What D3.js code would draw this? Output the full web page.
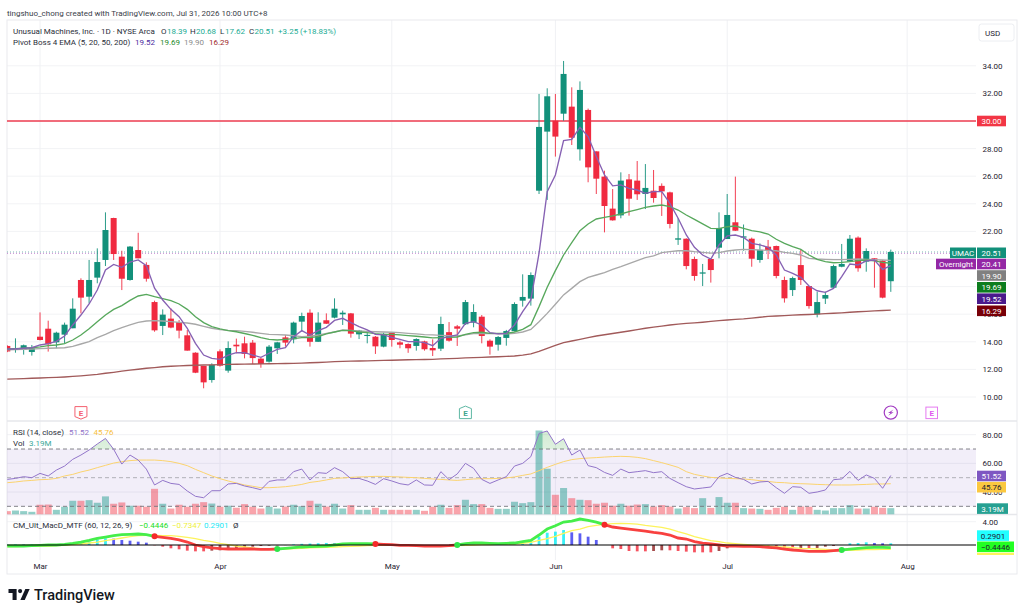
<!DOCTYPE html>
<html>
<head>
<meta charset="utf-8">
<script src="https://cdn.jsdelivr.net/npm/d3@7"></script>
<style>
  html, body { margin: 0; padding: 0; background: #fff; overflow: hidden; }
  text { font-family: Roboto, "Liberation Sans", sans-serif; }
  .domain { display: none; }
</style>
</head>
<body>
<div id="chart-container"></div>
<script>
/**************************************************
 * Data (daily bars, Feb 24 - Jul 30)
 **************************************************/
const opens = [13.7,13.41,13.41,13.26,14.37,14.95,13.96,14.52,14.98,18.48,17.27,18.65,19.93,22.97,20.17,18.48,20.65,19.57,16.88,15.15,15.68,15.43,14.47,13.21,12.25,11.23,13.31,11.91,13.79,13.89,13.94,12.78,12.56,13.53,14.32,14.18,15.46,16.11,14.0,15.56,15.75,
  15.99,16.06,14.54,14.42,14.37,13.65,14.64,13.96,13.84,13.7,14.03,13.55,13.5,14.7,15.12,15.27,15.39,15.82,14.08,13.79,14.28,14.78,16.98,17.13,24.95,29.23,30.02,30.53,31.04,27.95,30.8,27.8,25.97,23.65,23.16,25.77,25.68,24.71,24.95,25.3,24.83,
  21.4,21.47,20.0,18.94,20.0,20.82,21.45,22.66,21.55,21.47,19.93,20.89,20.94,18.48,17.75,19.56,18.04,15.99,17.13,17.92,19.44,19.81,21.55,19.81,20.05,19.88,18.39];
const closes = [13.3,13.53,13.75,13.57,14.13,13.82,14.66,15.24,16.4,17.2,18.48,19.78,22.1,20.36,18.57,20.9,20.05,18.57,14.83,15.97,15.03,14.81,13.36,11.76,11.06,12.34,12.27,13.55,13.67,13.12,12.82,12.39,13.65,13.96,13.94,15.39,15.87,14.0,15.39,15.31,16.4,
  16.11,14.59,14.81,14.5,13.67,14.57,14.13,13.79,13.53,14.2,13.46,13.38,15.29,14.08,14.95,16.88,16.16,14.42,13.65,14.35,14.78,16.74,17.25,18.84,29.57,31.79,28.87,33.41,28.79,32.25,26.64,25.82,23.84,22.8,25.68,24.37,24.69,25.15,24.42,24.9,22.54,
  21.5,19.49,18.77,19.03,19.2,22.25,23.19,22.05,21.64,20.02,20.65,20.65,18.77,17.15,18.62,18.48,16.59,16.88,17.39,19.49,19.64,21.47,19.33,20.58,19.86,17.2,20.51];
const highs = [13.75,14.25,13.8,13.77,16.13,15.53,14.73,15.39,17.15,18.6,19.93,20.77,23.38,22.99,20.6,20.94,21.9,19.76,16.98,16.35,16.42,15.58,14.86,13.24,12.25,12.44,13.45,14.03,14.23,14.37,14.13,12.85,13.77,14.0,14.49,15.46,16.11,16.35,16.14,16.06,17.15,
  16.26,16.09,14.86,14.7,14.42,14.66,14.7,14.08,13.89,14.25,14.08,14.18,15.82,15.43,15.22,17.03,16.72,15.94,14.18,14.42,14.86,16.86,18.89,19.03,31.96,32.37,31.96,34.35,32.44,32.87,30.9,27.8,26.4,25.07,26.28,26.16,27.1,26.88,26.45,25.48,24.88,
  22.95,21.5,20.17,19.64,20.0,23.38,24.71,25.97,22.5,21.55,21.13,21.38,20.97,18.72,18.72,20.7,18.04,17.63,17.63,19.59,21.09,21.74,21.64,20.77,20.05,19.93,20.68];
const lows = [13.25,13.21,13.07,13.0,14.1,13.29,13.53,13.89,14.98,16.06,16.79,18.24,19.49,19.93,17.75,18.43,20.05,18.36,14.73,14.49,14.98,14.25,13.36,11.73,10.63,11.04,12.2,11.76,13.17,12.8,12.39,12.12,12.49,13.12,13.65,13.89,14.73,13.65,14.0,15.29,15.7,
  15.22,14.3,14.2,13.89,13.12,13.6,13.65,13.53,13.2,13.36,13.36,12.97,13.33,14.01,13.7,15.22,15.05,13.89,13.07,13.36,13.72,14.74,16.55,16.62,24.71,24.28,27.42,30.02,28.26,27.13,25.56,24.71,21.93,22.78,22.95,23.14,24.28,23.62,24.08,23.12,22.22,
  21.02,19.25,18.43,18.04,18.29,20.05,21.45,22.03,20.6,19.44,19.73,20.0,18.6,16.84,17.32,18.12,16.4,15.77,16.74,17.87,19.4,19.81,19.08,19.08,17.92,17.15,17.62];

const ema5 = [13.48,13.48,13.53,13.57,13.77,13.87,14.03,14.42,15.22,15.94,16.74,17.75,19.2,19.61,19.4,19.78,19.93,19.52,17.88,17.03,16.35,15.82,14.98,13.89,13.04,12.8,12.73,13.04,13.21,13.21,13.04,12.87,13.17,13.45,13.57,14.37,14.81,14.49,14.81,15.05,15.55,
  15.7,15.39,15.1,14.86,14.54,14.5,14.32,14.18,14.01,14.01,13.94,13.72,14.25,14.37,14.5,15.34,15.46,15.22,14.66,14.57,14.61,15.22,16.18,17.03,20.41,24.88,26.09,28.58,28.67,29.54,28.87,27.42,26.09,25.3,25.37,25.12,25.0,24.76,24.88,24.88,24.03,
  22.95,21.74,20.85,20.29,20.0,21.02,21.67,21.74,21.57,21.13,21.02,20.85,20.29,19.2,18.96,18.67,18.04,17.7,17.58,17.87,18.72,19.64,19.57,19.86,19.93,19.25,19.52];
const ema20 = [13.48,13.5,13.53,13.57,13.63,13.72,13.77,13.87,14.13,14.49,14.95,15.46,15.94,16.35,16.62,17.0,17.32,17.44,17.27,17.13,16.98,16.74,16.35,15.82,15.39,15.1,14.93,14.81,14.73,14.6,14.47,14.3,14.18,14.13,14.18,14.23,14.3,14.3,14.37,14.57,14.71,
  14.83,14.81,14.71,14.66,14.59,14.54,14.54,14.5,14.45,14.4,14.35,14.28,14.3,14.33,14.35,14.54,14.66,14.69,14.61,14.61,14.61,14.71,14.9,15.24,16.55,17.95,19.16,20.29,21.18,22.05,22.54,22.9,23.02,23.12,23.26,23.43,23.58,23.74,23.84,23.91,23.79,
  23.55,23.19,22.87,22.54,22.22,22.2,22.34,22.39,22.22,22.05,21.96,21.81,21.43,21.13,20.89,20.7,20.29,19.97,19.81,19.73,19.76,19.81,19.88,19.93,19.86,19.76,19.69];
const ema50 = [13.41,13.43,13.45,13.48,13.5,13.53,13.55,13.57,13.67,13.84,14.01,14.3,14.54,14.81,15.03,15.22,15.41,15.51,15.53,15.51,15.46,15.41,15.36,15.27,15.12,14.98,14.88,14.83,14.81,14.76,14.69,14.61,14.54,14.52,14.49,14.44,14.37,14.4,14.49,14.61,14.71,
  14.86,14.83,14.78,14.76,14.73,14.71,14.69,14.66,14.61,14.57,14.52,14.5,14.47,14.45,14.42,14.5,14.59,14.61,14.59,14.57,14.57,14.61,14.71,14.9,15.46,16.06,16.72,17.4,17.87,18.36,18.67,18.84,19.01,19.25,19.44,19.66,19.88,20.1,20.22,20.46,20.53,
  20.6,20.6,20.53,20.48,20.43,20.46,20.58,20.65,20.7,20.68,20.65,20.63,20.6,20.48,20.41,20.29,20.05,20.0,19.97,19.95,19.95,19.97,20.0,19.97,19.95,19.93,19.9];
const ema200 = [11.3,11.31,11.33,11.36,11.38,11.4,11.42,11.45,11.49,11.53,11.58,11.64,11.72,11.79,11.87,11.95,12.01,12.08,12.13,12.19,12.23,12.26,12.28,12.3,12.32,12.33,12.35,12.36,12.37,12.38,12.39,12.4,12.41,12.42,12.43,12.44,12.46,12.48,12.5,12.53,12.56,
  12.58,12.6,12.61,12.62,12.64,12.65,12.66,12.68,12.7,12.71,12.72,12.73,12.76,12.78,12.8,12.83,12.85,12.87,12.9,12.92,12.94,12.97,13.03,13.12,13.3,13.53,13.74,13.94,14.06,14.18,14.3,14.42,14.51,14.6,14.69,14.78,14.88,14.98,15.06,15.14,15.22,
  15.28,15.33,15.37,15.42,15.48,15.54,15.58,15.63,15.66,15.72,15.78,15.84,15.87,15.9,15.93,15.96,15.98,16.01,16.04,16.07,16.1,16.14,16.18,16.21,16.24,16.27,16.29];

const volumes = [1.7,2.0,1.7,1.35,4.9,5.0,2.35,3.9,6.9,6.9,7.2,5.9,9.1,5.4,6.05,4.4,4.4,3.9,12.9,5.4,3.0,4.9,3.9,5.4,6.2,5.5,3.9,4.4,3.4,5.2,3.9,3.0,3.9,3.0,4.0,4.9,4.2,6.9,5.4,4.0,5.4,
  3.0,4.7,2.35,2.35,3.35,2.35,2.35,2.35,2.35,2.35,1.85,3.9,4.9,3.35,4.7,7.4,5.2,5.2,3.35,2.85,2.85,6.4,5.7,6.2,42.2,23.0,9.9,13.3,8.2,7.4,7.2,5.4,5.9,4.4,5.4,4.4,5.0,5.2,4.0,4.7,4.0,
  3.0,3.7,3.2,8.2,3.35,8.75,5.9,5.9,3.2,3.0,2.85,2.35,3.35,3.9,2.35,4.0,3.9,2.35,2.0,3.2,3.2,4.7,3.0,3.0,3.9,3.35,3.19];

const rsi = [48.8,49.5,50.7,50.0,53.0,51.2,55.3,58.1,62.8,65.8,69.3,73.5,77.4,69.8,59.5,65.8,62.3,56.0,44.9,48.1,46.0,45.3,40.7,37.0,36.0,40.9,40.9,45.6,46.0,44.2,43.0,41.6,47.4,48.4,48.4,54.2,56.0,48.4,53.5,53.0,57.0,
  54.2,49.3,49.5,47.7,45.3,49.3,47.7,45.8,44.9,48.4,44.9,44.7,54.2,48.6,52.6,60.0,56.5,48.8,46.0,48.4,50.7,58.1,60.0,64.7,80.9,82.6,73.3,77.2,65.8,69.3,58.4,57.0,53.7,51.6,56.0,53.5,54.2,54.9,53.5,54.2,49.5,
  46.5,43.7,42.1,42.8,43.5,50.7,53.0,50.2,48.8,45.6,47.0,47.4,43.0,39.1,43.7,43.3,39.1,40.0,41.4,48.6,49.1,54.4,48.1,51.9,49.5,42.6,51.52];
const rsiMa = [46.5,47.0,47.7,48.1,48.6,48.8,49.5,51.2,52.3,54.0,55.3,57.0,58.6,60.2,61.2,61.9,62.3,62.3,62.3,61.9,61.2,60.0,58.4,55.8,53.5,51.2,49.3,47.7,46.3,44.9,44.0,43.0,43.0,43.3,43.7,44.4,45.3,46.7,47.4,48.4,49.5,
  49.8,50.2,50.5,50.7,50.9,50.9,50.7,50.5,50.2,50.0,49.5,49.1,48.8,48.4,48.1,48.6,49.1,49.3,49.3,49.5,49.8,50.5,51.6,52.6,54.9,57.2,59.3,61.2,62.6,63.3,63.7,64.0,64.4,64.7,64.9,64.7,64.2,63.3,61.9,60.5,58.9,
  57.2,54.2,52.3,51.2,50.2,49.8,49.5,49.3,49.1,48.6,47.9,47.4,46.7,46.5,46.0,45.8,45.6,45.3,45.1,44.9,44.9,44.9,45.1,45.3,45.6,45.6,45.76];

const macd = [-.17,-.17,-.17,-.11,-.06,0,0,.11,.29,.51,.8,1.14,1.37,1.6,1.77,1.83,1.89,1.77,1.49,1.31,1.14,.86,.51,0,-.29,-.51,-.63,-.69,-.69,-.69,-.69,-.74,-.74,-.69,-.57,-.46,-.34,-.29,-.23,-.17,0,
  .17,.23,.23,.23,.17,.11,.06,-.06,-.06,-.11,-.17,-.17,-.17,-.11,0,.23,.34,.34,.29,.23,.29,.34,.57,.8,1.71,2.74,3.31,3.94,4.11,4.46,4.23,3.94,3.49,3.09,2.91,2.74,2.57,2.4,2.17,2.0,1.71,
  1.2,1.03,.57,.34,.17,0,-.17,-.17,-.23,-.23,-.29,-.4,-.51,-.69,-.86,-.97,-1.09,-1.09,-1.09,-.97,-.86,-.69,-.57,-.46,-.4,-.4,-.4446];
const signal = [-.29,-.29,-.23,-.23,-.17,-.17,-.11,-.06,.06,.17,.34,.51,.74,.97,1.2,1.43,1.6,1.66,1.66,1.6,1.6,1.49,1.31,1.09,.8,.57,.29,.06,-.17,-.34,-.51,-.63,-.69,-.69,-.69,-.63,-.57,-.51,-.46,-.4,-.34,
  -.29,-.23,-.17,-.11,-.06,-.06,-.06,-.06,-.06,-.06,-.11,-.11,-.11,-.11,-.11,-.06,0,.06,.06,.11,.11,.17,.29,.46,.8,1.09,1.49,2.0,2.46,2.74,3.14,3.37,3.54,3.66,3.71,3.66,3.6,3.37,3.2,3.03,2.74,
  2.29,1.89,1.43,1.09,.74,.57,.34,.23,.11,0,-.06,-.17,-.29,-.34,-.46,-.57,-.63,-.69,-.74,-.86,-.91,-.91,-.86,-.8,-.8,-.74,-.7347];
const hist = [.05,.12,.1,.14,.1,.12,.08,.1,.15,.4,.6,.97,1.14,1.09,.86,.74,.57,.4,-.05,-.29,-.57,-.74,-.97,-1.09,-1.09,-.97,-.91,-.69,-.57,-.4,-.29,-.17,-.11,-.06,-.02,.1,.2,.25,.3,.35,.3,
  .34,.34,.29,.2,.1,.06,-.03,-.05,-.05,-.08,-.08,-.08,-.05,-.03,.03,.08,.11,.1,.06,.05,.05,.1,.2,.57,1.43,2.11,2.29,2.57,2.17,2.0,1.43,.86,0,-.57,-.69,-1.03,-1.09,-1.09,-1.03,-.91,-.91,
  -1.03,-1.14,-1.26,-1.26,-1.26,-1.03,-.57,-.29,-.11,-.06,-.11,-.17,-.29,-.57,-.57,-.51,-.57,-.51,-.29,-.17,0,.29,.34,.46,.34,.29,.2901];
// bars where macd crosses signal, the first one turns it red, then it alternates
const macdCrosses = [18, 33, 45, 55, 73, 102];

const monthTicks = [4, 26, 47, 67, 88, 110];
const monthLabels = ["Mar", "Apr", "May", "Jun", "Jul", "Aug"];
const priceGrid = [10, 12, 14, 16, 18, 20, 22, 24, 26, 28, 30, 32, 34];
const priceTicks = [10, 12, 14, 16, 22, 24, 26, 28, 32, 34]; // 18 and 20 sit fully under the tags
const rsiTicks = [40, 60, 80];
const macdTicks = [4];
const alertLevel = 30;
const earningsBeat = [9];
const earningsMiss = [56];
const earningsNext = [113];
const splitBars = [108];

/**************************************************
 * Layout
 **************************************************/
const width = 1027, height = 613;
const frameLeft = 7, frameRight = 1017, plotRight = 976, frameTop = 20, frameBottom = 574;
const mainBottom = 421, rsiBottom = 514.5, macdBottom = 555;

const green = "#12907a", red = "#f02a40";
const font = 8;

const svg = d3.select("#chart-container")
  .append("svg")
  .attr("width", width)
  .attr("height", height)
  .style("display", "block");

const defs = svg.append("defs");
function addClip(id, x0, y0, w, h) {
  defs.append("clipPath").attr("id", id).append("rect")
    .attr("x", x0).attr("y", y0).attr("width", w).attr("height", h);
}
addClip("main-clip", frameLeft, frameTop, plotRight - frameLeft, mainBottom - frameTop);
addClip("rsi-clip", frameLeft, mainBottom, plotRight - frameLeft, rsiBottom - mainBottom);
addClip("macd-clip", frameLeft, rsiBottom, plotRight - frameLeft, macdBottom - rsiBottom);
addClip("macd-axis-clip", plotRight, rsiBottom, frameRight - plotRight, macdBottom - rsiBottom);

const ob = defs.append("linearGradient").attr("id", "ob-fill")
  .attr("x1", 0).attr("x2", 0).attr("y1", 0).attr("y2", 1);
ob.append("stop").attr("offset", "0%").attr("stop-color", "#4caf50").attr("stop-opacity", 0.25);
ob.append("stop").attr("offset", "100%").attr("stop-color", "#4caf50").attr("stop-opacity", 0);

/**************************************************
 * Scales
 **************************************************/
const x = d3.scaleLinear().domain([0, 108]).range([7.3, 890.8]);
const priceY = d3.scaleLinear().domain([10, 34]).range([397, 65.8]);
const rsiY = d3.scaleLinear().domain([40, 80]).range([492, 434.7]);
const volY = d3.scaleLinear().domain([0, 42.2]).range([rsiBottom, 430.5]);
const macdY = d3.scaleLinear().domain([0, 4]).range([545, 521.7]);

/**************************************************
 * Frame and grid
 **************************************************/
svg.append("g").selectAll("line")
  .data(priceGrid)
  .enter().append("line")
  .attr("x1", frameLeft).attr("x2", plotRight)
  .attr("y1", d => priceY(d)).attr("y2", d => priceY(d))
  .attr("stroke", "#f2f3f5");

svg.append("g").selectAll("line")
  .data(rsiTicks)
  .enter().append("line")
  .attr("x1", frameLeft).attr("x2", plotRight)
  .attr("y1", d => rsiY(d)).attr("y2", d => rsiY(d))
  .attr("stroke", "#f0f1f4");

svg.append("line")
  .attr("x1", frameLeft).attr("x2", plotRight)
  .attr("y1", macdY(4)).attr("y2", macdY(4))
  .attr("stroke", "#f2f3f5");

svg.append("g").selectAll("line")
  .data(monthTicks)
  .enter().append("line")
  .attr("x1", d => x(d)).attr("x2", d => x(d))
  .attr("y1", frameTop).attr("y2", macdBottom + 5)
  .attr("stroke", "#f0f1f4");

svg.append("rect")
  .attr("x", frameLeft).attr("y", frameTop)
  .attr("width", frameRight - frameLeft).attr("height", frameBottom - frameTop)
  .attr("fill", "none").attr("stroke", "#e9eaee");

[mainBottom, rsiBottom].forEach(y => {
  svg.append("line")
    .attr("x1", frameLeft).attr("x2", frameRight)
    .attr("y1", y).attr("y2", y)
    .attr("stroke", "#e6e7eb").attr("stroke-width", 1.3);
});

/**************************************************
 * Price pane
 **************************************************/
const main = svg.append("g").attr("clip-path", "url(#main-clip)");

// last price and overnight dotted lines
[[closes[108], "#12907a"], [20.41, "#9c27b0"]].forEach(([p, c]) => {
  main.append("line")
    .attr("x1", frameLeft).attr("x2", plotRight)
    .attr("y1", priceY(p)).attr("y2", priceY(p))
    .attr("stroke", c).attr("stroke-opacity", 0.55)
    .attr("stroke-dasharray", "1 2");
});

main.append("line")
  .attr("x1", frameLeft).attr("x2", plotRight)
  .attr("y1", priceY(alertLevel)).attr("y2", priceY(alertLevel))
  .attr("stroke", "#ee3d50").attr("stroke-width", 1.6);

const bars = main.append("g").selectAll("g")
  .data(opens.map((o, i) => i))
  .enter().append("g");

bars.append("line")
  .attr("x1", i => x(i)).attr("x2", i => x(i))
  .attr("y1", i => priceY(highs[i])).attr("y2", i => priceY(lows[i]))
  .attr("stroke", i => closes[i] >= opens[i] ? green : red)
  .attr("stroke-width", 0.9);

bars.append("rect")
  .attr("x", i => x(i) - 3).attr("width", 6)
  .attr("y", i => priceY(Math.max(opens[i], closes[i])))
  .attr("height", i => Math.max(1, Math.abs(priceY(opens[i]) - priceY(closes[i]))))
  .attr("fill", i => closes[i] >= opens[i] ? green : red);

const priceLine = d3.line().x((d, i) => x(i)).y(d => priceY(d));

[[ema200, "#a15a5a"], [ema50, "#a8a8a8"], [ema20, "#57a85c"], [ema5, "#8661b3"]].forEach(([s, c]) => {
  main.append("path")
    .attr("d", priceLine(s))
    .attr("fill", "none")
    .attr("stroke", c)
    .attr("stroke-width", 1.35);
});

// event markers under the candles
const markerY = 412.6;
main.selectAll("path.e-miss").data(earningsBeat).enter().append("path")
  .attr("class", "e-miss")
  .attr("d", d => `M${x(d) - 6},${markerY - 6}h12v10l-6,2.5l-6,-2.5z`)
  .attr("fill", "#fff").attr("stroke", "#f4606f").attr("stroke-width", 1);
main.selectAll("path.e-beat").data(earningsMiss).enter().append("path")
  .attr("class", "e-beat")
  .attr("d", d => `M${x(d) - 6},${markerY + 6}h12v-10l-6,-2.5l-6,2.5z`)
  .attr("fill", "#fff").attr("stroke", "#5fb8a4").attr("stroke-width", 1);
main.selectAll("rect.e-next").data(earningsNext).enter().append("rect")
  .attr("class", "e-next")
  .attr("x", d => x(d) - 5.8).attr("y", markerY - 5.5)
  .attr("width", 11.6).attr("height", 11.5)
  .attr("fill", "#fff").attr("stroke", "#e57bf0").attr("stroke-width", 1);
main.selectAll("text.e-label")
  .data(earningsBeat.map(d => [d, "#f4606f"]).concat(earningsMiss.map(d => [d, "#3fa58e"]), earningsNext.map(d => [d, "#e057ee"])))
  .enter().append("text")
  .attr("class", "e-label")
  .attr("x", d => x(d[0])).attr("y", markerY + 3)
  .attr("text-anchor", "middle")
  .attr("font-size", 8).attr("font-weight", 700)
  .attr("fill", d => d[1])
  .text("E");
main.selectAll("circle.split").data(splitBars).enter().append("circle")
  .attr("class", "split")
  .attr("cx", d => x(d)).attr("cy", markerY)
  .attr("r", 6.6)
  .attr("fill", "#fff").attr("stroke", "#a23bc2").attr("stroke-width", 1.2);
main.selectAll("path.bolt").data(splitBars).enter().append("path")
  .attr("class", "bolt")
  .attr("d", d => `M${x(d) + 2.6},${markerY - 3.2}l-5.4,3.6h2.6l-2.4,2.8l5.4,-3.6h-2.6z`)
  .attr("fill", "#a23bc2");

/**************************************************
 * RSI and volume pane
 **************************************************/
const rsiPane = svg.append("g").attr("clip-path", "url(#rsi-clip)");

rsiPane.append("rect")
  .attr("x", frameLeft).attr("width", plotRight - frameLeft)
  .attr("y", rsiY(70)).attr("height", rsiY(30) - rsiY(70))
  .attr("fill", "#7e57c2").attr("fill-opacity", 0.1);

rsiPane.append("g").selectAll("rect")
  .data(volumes)
  .enter().append("rect")
  .attr("x", (d, i) => x(i) - 3.5).attr("width", 7)
  .attr("y", d => volY(d))
  .attr("height", d => rsiBottom - volY(d))
  .attr("fill", (d, i) => closes[i] >= opens[i] ? "#0f9484" : "#f23645")
  .attr("fill-opacity", 0.45);

[70, 50, 30].forEach((level, i) => {
  rsiPane.append("line")
    .attr("x1", frameLeft).attr("x2", plotRight)
    .attr("y1", rsiY(level)).attr("y2", rsiY(level))
    .attr("stroke", i === 1 ? "#a9a9b0" : "#75757c")
    .attr("stroke-width", 0.9)
    .attr("stroke-dasharray", "4 3");
});

// green wedge above the overbought line
defs.append("clipPath").attr("id", "ob-clip").append("rect")
  .attr("x", frameLeft).attr("y", mainBottom)
  .attr("width", plotRight - frameLeft).attr("height", rsiY(70) - mainBottom);

rsiPane.append("path")
  .attr("d", d3.area().x((d, i) => x(i)).y0(rsiY(70)).y1(d => rsiY(d))(rsi))
  .attr("fill", "url(#ob-fill)")
  .attr("clip-path", "url(#ob-clip)");

const rsiLine = d3.line().x((d, i) => x(i)).y(d => rsiY(d));
rsiPane.append("path")
  .attr("d", rsiLine(rsiMa))
  .attr("fill", "none").attr("stroke", "#fbd36e").attr("stroke-width", 1);
rsiPane.append("path")
  .attr("d", rsiLine(rsi))
  .attr("fill", "none").attr("stroke", "#9275c9").attr("stroke-width", 1);

/**************************************************
 * MACD pane
 **************************************************/
const macdPane = svg.append("g").attr("clip-path", "url(#macd-clip)");

function histColor(d, i) {
  const prev = i > 0 ? hist[i - 1] : 0;
  if (d >= 0) return d >= prev ? "#22f0f5" : "#4a4cf0";
  return d <= prev ? "#f5404f" : "#9c3a3a";
}

macdPane.append("g").selectAll("rect")
  .data(hist)
  .enter().append("rect")
  .attr("x", (d, i) => x(i) - 1.4).attr("width", 2.8)
  .attr("y", d => Math.min(macdY(d), macdY(0)))
  .attr("height", d => Math.abs(macdY(d) - macdY(0)))
  .attr("fill", histColor)
  .attr("fill-opacity", 0.9);

const macdLine = d3.line().x((d, i) => x(i)).y(d => macdY(d));
macdPane.append("path")
  .attr("d", macdLine(signal))
  .attr("fill", "none").attr("stroke", "#fdf35c").attr("stroke-width", 1.3);

// thick macd line, one piece per colour run
const stops = [0].concat(macdCrosses, [108]);
stops.slice(0, -1).forEach((from, k) => {
  const to = stops[k + 1];
  const pts = d3.range(from, to + 1);
  macdPane.append("path")
    .attr("d", d3.line().x(i => x(i)).y(i => macdY(macd[i]))(pts))
    .attr("fill", "none")
    .attr("stroke", k % 2 === 0 ? "#45ee4a" : "#f8403f")
    .attr("stroke-width", 2.8);
});

macdPane.append("line")
  .attr("x1", frameLeft).attr("x2", plotRight)
  .attr("y1", macdY(0)).attr("y2", macdY(0))
  .attr("stroke", "#000").attr("stroke-width", 1.2);

macdPane.append("g").selectAll("circle")
  .data(macdCrosses)
  .enter().append("circle")
  .attr("cx", d => x(d)).attr("cy", d => macdY(macd[d]))
  .attr("r", 3)
  .attr("fill", (d, i) => i % 2 === 0 ? "#f52a2a" : "#2ee64a");

/**************************************************
 * Axes
 **************************************************/
function styleAxis(g) {
  g.selectAll(".tick line").remove();
  g.selectAll("text")
    .attr("font-size", font)
    .attr("font-family", "Roboto, 'Liberation Sans', sans-serif")
    .attr("fill", "#1f2330");
}

svg.append("g")
  .attr("transform", `translate(${plotRight},0)`)
  .call(d3.axisRight(priceY).tickValues(priceTicks).tickFormat(d3.format(".2f")).tickSize(0).tickPadding(6.5))
  .call(styleAxis);

svg.append("g")
  .attr("transform", `translate(${plotRight},0)`)
  .call(d3.axisRight(rsiY).tickValues(rsiTicks).tickFormat(d3.format(".2f")).tickSize(0).tickPadding(6.5))
  .call(styleAxis);

svg.append("g")
  .attr("transform", `translate(${plotRight},0)`)
  .call(d3.axisRight(macdY).tickValues(macdTicks).tickFormat(d3.format(".2f")).tickSize(0).tickPadding(6.5))
  .call(styleAxis);

svg.append("g")
  .attr("transform", `translate(0,${macdBottom + 4})`)
  .call(d3.axisBottom(x).tickValues(monthTicks).tickFormat((d, i) => monthLabels[i]).tickSize(0).tickPadding(4))
  .call(styleAxis);

/**************************************************
 * Price labels on the right
 **************************************************/
function tag(parent, text, x0, x1, cy, bg, fg) {
  parent.append("rect")
    .attr("x", x0).attr("y", cy - 5.3)
    .attr("width", x1 - x0).attr("height", 10.6)
    .attr("fill", bg);
  parent.append("text")
    .attr("x", (x0 + x1) / 2).attr("y", cy + 3)
    .attr("text-anchor", "middle")
    .attr("font-size", font)
    .attr("fill", fg)
    .text(text);
}

tag(svg, "30.00", 977, 1006, priceY(alertLevel), "#f23645", "#fff");
tag(svg, "UMAC", 950, 976, 252.8, "#12907a", "#fff");
tag(svg, d3.format(".2f")(closes[108]), 977, 1006, 252.8, "#12907a", "#fff");
tag(svg, "Overnight", 936, 976, 264, "#9427a5", "#fff");
tag(svg, "20.41", 977, 1006, 264, "#9427a5", "#fff");
tag(svg, d3.format(".2f")(ema50[108]), 977, 1006, 275.5, "#808080", "#fff");
tag(svg, d3.format(".2f")(ema20[108]), 977, 1006, 287.3, "#0c7d1e", "#fff");
tag(svg, d3.format(".2f")(ema5[108]), 977, 1006, 298.7, "#4a1a8c", "#fff");
tag(svg, d3.format(".2f")(ema200[108]), 977, 1006, 310.8, "#780008", "#fff");

tag(svg, d3.format(".2f")(rsi[108]), 977, 1006, 476, "#7e57c2", "#fff");
tag(svg, d3.format(".2f")(rsiMa[108]), 977, 1006, 487.2, "#fbc840", "#1f2330");
tag(svg, "3.19M", 977, 1008, 508.6, "#26a092", "#fff");

const macdLabels = svg.append("g").attr("clip-path", "url(#macd-axis-clip)");
tag(macdLabels, d3.format(".4f")(hist[108]), 977, 1009, 535.6, "#22ffff", "#1f2330");
tag(macdLabels, "\u2212" + d3.format(".4f")(-macd[108]), 977, 1014, 546.8, "#22ff22", "#1f2330");
tag(macdLabels, "\u2212" + d3.format(".4f")(-signal[108]), 977, 1014, 558, "#fdf35c", "#1f2330");

// currency box
svg.append("rect")
  .attr("x", 979).attr("y", 24)
  .attr("width", 35).attr("height", 17)
  .attr("rx", 2.5)
  .attr("fill", "#fff").attr("stroke", "#eceef2");
svg.append("text")
  .attr("x", 985).attr("y", 35.5)
  .attr("font-size", font).attr("fill", "#1f2330")
  .text("USD");

/**************************************************
 * Legends and header
 **************************************************/
function label(text, px, py, color, size, weight) {
  svg.append("text")
    .attr("x", px).attr("y", py)
    .attr("font-size", size || font)
    .attr("font-weight", weight || 400)
    .attr("fill", color || "#2a2e39")
    .text(text);
}

const legendGreen = "#22ab94";
label("tingshuo_chong created with TradingView.com, Jul 31, 2026 10:00 UTC+8", 7, 16, "#3a3e4a");

label("Unusual Machines, Inc. \u00b7 1D \u00b7 NYSE Arca", 13, 33.5);
label("O", 161, 33.5); label("18.39", 167, 33.5, legendGreen);
label("H", 190, 33.5); label("20.68", 196, 33.5, legendGreen);
label("L", 220, 33.5); label("17.62", 225, 33.5, legendGreen);
label("C", 249, 33.5); label("20.51", 254.5, 33.5, legendGreen);
label("+3.25 (+18.83%)", 278, 33.5, legendGreen);

label("Pivot Boss 4 EMA (5, 20, 50, 200)", 13, 45);
label("19.52", 135, 45, "#4a2ba0");
label("19.69", 160, 45, "#1d8a2a");
label("19.90", 184, 45, "#8c8c8c");
label("16.29", 209, 45, "#a01f2a");

label("RSI (14, close)", 13, 434.5);
label("51.52", 69, 434.5, "#8f73c9");
label("45.76", 93.5, 434.5, "#f7c140");
label("Vol", 13, 445.5);
label("3.19M", 29, 445.5, "#3aa89a");

label("CM_Ult_MacD_MTF (60, 12, 26, 9)", 13, 528);
label("\u22120.4446", 139, 528, "#22dd22");
label("\u22120.7347", 172, 528, "#eef03c");
label("0.2901", 204, 528, "#22e8f5");
label("\u00d8", 233, 528);

// TradingView logo
const logo = svg.append("g").attr("transform", "translate(8.5,589) scale(0.58)");
logo.append("path").attr("d", "M14 0H0v7h7v12h7V0z").attr("fill", "#131722");
logo.append("circle").attr("cx", 20).attr("cy", 3.6).attr("r", 3.6).attr("fill", "#131722");
logo.append("path").attr("d", "M29 0h7.5L28 19h-7.5z").attr("fill", "#131722");
label("TradingView", 34, 599.5, "#131722", 14.5, 500);
</script>
</body>
</html>
